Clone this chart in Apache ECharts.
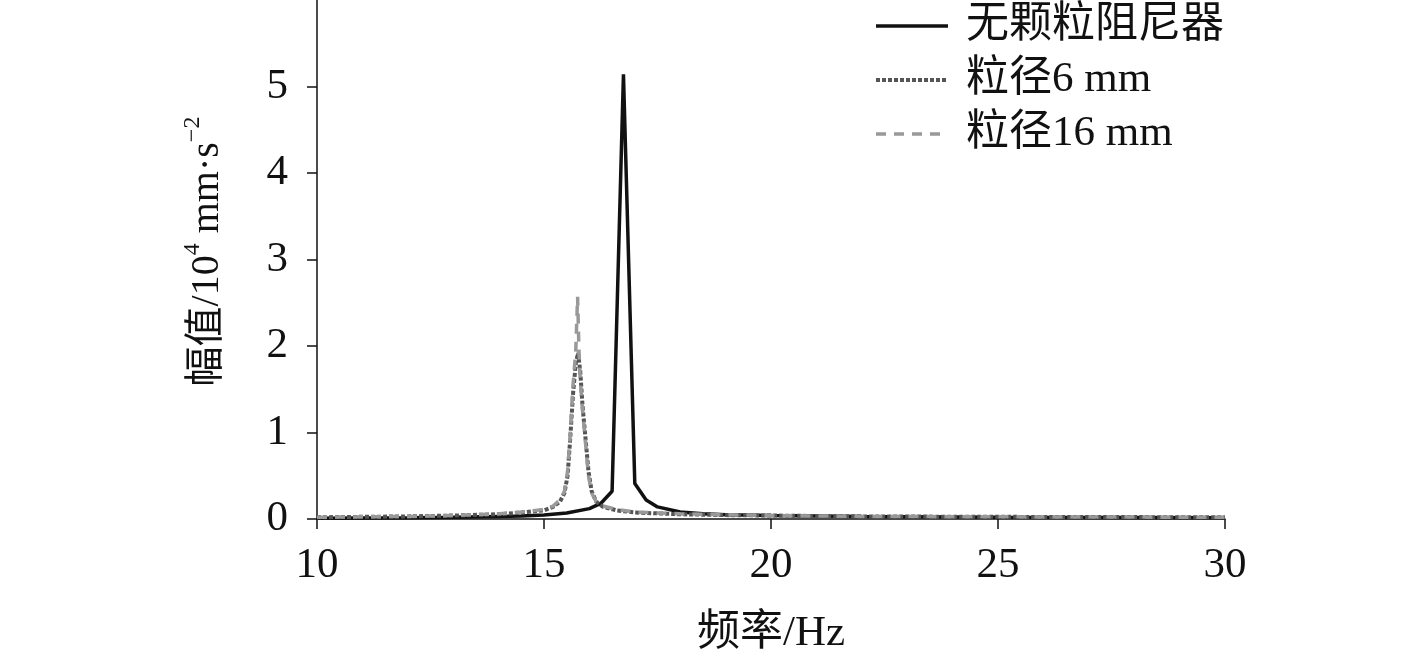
<!DOCTYPE html>
<html><head><meta charset="utf-8">
<script src="https://cdn.jsdelivr.net/npm/echarts@6/dist/echarts.min.js"></script>
<style>html,body{margin:0;padding:0;background:#fff}#c{width:1417px;height:661px}</style>
</head><body><div id="c"></div>
<script>
const seriesNames = ['无颗粒阻尼器', '粒径6 mm', '粒径16 mm'];
const yTicks = [0, 1, 2, 3, 4, 5];
const xTicks = [10, 15, 20, 25, 30];

const freqNone = [10, 12, 13, 14, 14.5, 15, 15.5, 16, 16.25, 16.5, 16.75, 17, 17.25, 17.5, 18, 18.5, 19, 20, 22, 25, 30];
const ampNone  = [0.01, 0.015, 0.02, 0.03, 0.035, 0.045, 0.07, 0.12, 0.18, 0.32, 5.14, 0.41, 0.22, 0.14, 0.08, 0.06, 0.05, 0.04, 0.03, 0.02, 0.015];

const freq6 = [10, 12, 13, 14, 14.5, 15, 15.2, 15.35, 15.45, 15.52, 15.58, 15.64, 15.7, 15.75, 15.8, 15.85, 15.92, 15.98, 16.05, 16.15, 16.3, 16.6, 17, 17.5, 18, 19, 20, 22, 25, 30];
const amp6  = [0.02, 0.03, 0.04, 0.055, 0.075, 0.1, 0.14, 0.2, 0.3, 0.5, 0.95, 1.45, 1.8, 1.92, 1.7, 1.3, 0.9, 0.55, 0.32, 0.2, 0.14, 0.1, 0.075, 0.065, 0.055, 0.045, 0.04, 0.03, 0.025, 0.02];

const freq16 = [10, 12, 13, 14, 14.5, 15, 15.2, 15.35, 15.45, 15.52, 15.58, 15.64, 15.7, 15.74, 15.77, 15.8, 15.85, 15.92, 15.98, 16.05, 16.15, 16.3, 16.6, 17, 17.5, 18, 19, 20, 22, 25, 30];
const amp16  = [0.02, 0.03, 0.04, 0.06, 0.08, 0.11, 0.15, 0.22, 0.32, 0.55, 1.0, 1.55, 1.95, 2.57, 1.95, 1.6, 1.25, 0.85, 0.5, 0.3, 0.2, 0.15, 0.11, 0.08, 0.07, 0.06, 0.05, 0.04, 0.03, 0.025, 0.02];

const zip = (xs, ys) => xs.map((x, i) => [x, ys[i]]);
const FONT = '"Liberation Serif", "Times New Roman", "Noto Sans CJK SC", serif';
const FS = 43;

const styles = [
  {color: '#111', width: 3.5, type: 'solid'},
  {color: '#555', width: 4, type: [4, 2]},
  {color: '#999', width: 3.5, type: [10, 8]}
];

const chart = echarts.init(document.getElementById('c'), null, {renderer: 'canvas'});
chart.setOption({
  animation: false,
  backgroundColor: '#fff',
  grid: {left: 317, right: 192, top: 0, bottom: 142, containLabel: false},
  legend: {
    orient: 'vertical', left: 874, top: 4, padding: 0, itemWidth: 72, itemHeight: 14, itemGap: 10,
    itemStyle: {opacity: 0},
    data: seriesNames.map((n, i) => ({name: n, lineStyle: Object.assign({}, styles[i])})),
    textStyle: {fontFamily: FONT, fontSize: FS, color: '#111', lineHeight: 44, padding: [0, 0, 0, 13]}
  },
  xAxis: {
    type: 'value', min: 10, max: 30, interval: 5,
    name: '频率/Hz', nameLocation: 'middle', nameGap: 93,
    nameTextStyle: {fontFamily: FONT, fontSize: FS, color: '#111'},
    axisLine: {show: true, onZero: false, lineStyle: {color: '#111', width: 1.5}},
    axisTick: {show: true, inside: false, length: 10, lineStyle: {color: '#111', width: 1.5}, customValues: xTicks},
    axisLabel: {fontFamily: FONT, fontSize: FS, color: '#111', margin: 25, customValues: xTicks},
    splitLine: {show: false}
  },
  yAxis: {
    type: 'value', min: 0, max: 6, interval: 1,
    name: '{a|幅值/10}{s|4}{a| mm·s}{s|−2}', nameLocation: 'middle', nameGap: 90, nameRotate: 90,
    nameTextStyle: {
      fontFamily: FONT, fontSize: 40, color: '#111', padding: [0, 0, 0, 16],
      rich: {
        a: {fontFamily: FONT, fontSize: 40, color: '#111', verticalAlign: 'bottom', lineHeight: 46},
        s: {fontFamily: FONT, fontSize: 24, color: '#111', verticalAlign: 'top', lineHeight: 46}
      }
    },
    axisLine: {show: true, lineStyle: {color: '#111', width: 1.5}},
    axisTick: {show: true, inside: false, length: 10, lineStyle: {color: '#111', width: 1.5}, customValues: yTicks},
    axisLabel: {fontFamily: FONT, fontSize: FS, color: '#111', margin: 29, customValues: yTicks},
    splitLine: {show: false}
  },
  series: seriesNames.map((n, i) => ({
    name: n, type: 'line',
    data: [zip(freqNone, ampNone), zip(freq6, amp6), zip(freq16, amp16)][i],
    showSymbol: false, symbol: 'none',
    lineStyle: styles[i], itemStyle: {color: styles[i].color}, z: 2 + i
  }))
});
</script></body></html>
